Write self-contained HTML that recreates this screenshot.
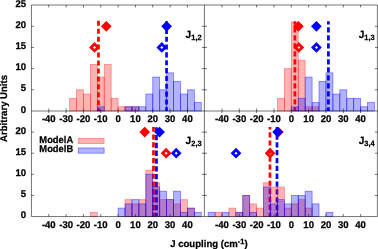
<!DOCTYPE html>
<html><head><meta charset="utf-8"><title>J coupling histograms</title>
<style>html,body{margin:0;padding:0;background:#fff}svg{display:block;will-change:transform}</style></head>
<body><svg width="378" height="249" viewBox="0 0 378 249">
<rect width="378" height="249" fill="#fff"/>
<path d="M48.78 113v-4.5M48.78 216.55v-2.5M48.78 5v2.5M66.11 113v-4.5M66.11 216.55v-2.5M66.11 5v2.5M83.44 113v-4.5M83.44 216.55v-2.5M83.44 5v2.5M100.77 113v-4.5M100.77 216.55v-2.5M100.77 5v2.5M118.1 113v-4.5M118.1 216.55v-2.5M118.1 5v2.5M135.43 113v-4.5M135.43 216.55v-2.5M135.43 5v2.5M152.76 113v-4.5M152.76 216.55v-2.5M152.76 5v2.5M170.09 113v-4.5M170.09 216.55v-2.5M170.09 5v2.5M187.42 113v-4.5M187.42 216.55v-2.5M187.42 5v2.5M221.98 113v-4.5M221.98 216.55v-2.5M221.98 5v2.5M239.31 113v-4.5M239.31 216.55v-2.5M239.31 5v2.5M256.64 113v-4.5M256.64 216.55v-2.5M256.64 5v2.5M273.97 113v-4.5M273.97 216.55v-2.5M273.97 5v2.5M291.3 113v-4.5M291.3 216.55v-2.5M291.3 5v2.5M308.63 113v-4.5M308.63 216.55v-2.5M308.63 5v2.5M325.96 113v-4.5M325.96 216.55v-2.5M325.96 5v2.5M343.29 113v-4.5M343.29 216.55v-2.5M343.29 5v2.5M360.62 113v-4.5M360.62 216.55v-2.5M360.62 5v2.5M31.45 89.81h2.5M201.9 89.81h5.0M377.4 89.81h-2.5M31.45 68.63h2.5M201.9 68.63h5.0M377.4 68.63h-2.5M31.45 47.45h2.5M201.9 47.45h5.0M377.4 47.45h-2.5M31.45 26.26h2.5M201.9 26.26h5.0M377.4 26.26h-2.5M31.45 195.44h2.5M201.9 195.44h5.0M377.4 195.44h-2.5M31.45 174.33h2.5M201.9 174.33h5.0M377.4 174.33h-2.5M31.45 153.22h2.5M201.9 153.22h5.0M377.4 153.22h-2.5M31.45 132.11h2.5M201.9 132.11h5.0M377.4 132.11h-2.5" stroke="#000" stroke-width="0.55" fill="none"/>
<path d="M98.45 108.2V111 M98.45 100.25V105.25 M98.45 92.3V97.3 M98.45 84.35V89.35 M98.45 76.4V81.4 M98.45 68.45V73.45 M98.45 60.5V65.5 M98.45 52.55V57.55 M98.45 44.6V49.6 M98.45 36.65V41.65 M98.45 28.7V33.7 M98.45 20.75V25.75" stroke="#ff0000" stroke-width="2.7" fill="none"/>
<path d="M166.55 107.3V111 M166.55 99.45V104.55 M166.55 91.6V96.7 M166.55 83.75V88.85 M166.55 75.9V81 M166.55 68.05V73.15 M166.55 60.2V65.3 M166.55 52.35V57.45 M166.55 44.5V49.6 M166.55 36.65V41.75 M166.55 28.8V33.9 M166.55 21.18V26.05" stroke="#0000ff" stroke-width="2.7" fill="none"/>
<path d="M294.9 107.3V111 M294.9 99.3V104.4 M294.9 91.3V96.4 M294.9 83.3V88.4 M294.9 75.3V80.4 M294.9 67.3V72.4 M294.9 59.3V64.4 M294.9 51.3V56.4 M294.9 43.3V48.4 M294.9 35.3V40.4 M294.9 27.3V32.4 M294.9 21.18V24.4" stroke="#ff0000" stroke-width="2.7" fill="none"/>
<path d="M328.4 107.3V111 M328.4 99.3V104.4 M328.4 91.3V96.4 M328.4 83.3V88.4 M328.4 75.3V80.4 M328.4 67.3V72.4 M328.4 59.3V64.4 M328.4 51.3V56.4 M328.4 43.3V48.4 M328.4 35.3V40.4 M328.4 27.3V32.4 M328.4 21.18V24.4" stroke="#0000ff" stroke-width="2.7" fill="none"/>
<path d="M153.5 212.85V216.55 M153.5 205.01V210.21 M153.5 197.17V202.37 M153.5 189.33V194.53 M153.5 181.49V186.69 M153.5 173.65V178.85 M153.5 165.81V171.01 M153.5 157.97V163.17 M153.5 150.13V155.33 M153.5 142.29V147.49 M153.5 134.45V139.65 M153.5 127.04V131.81" stroke="#ff0000" stroke-width="2.7" fill="none"/>
<path d="M156.45 212.85V216.55 M156.45 205.07V210.37 M156.45 197.29V202.59 M156.45 189.51V194.81 M156.45 181.73V187.03 M156.45 173.95V179.25 M156.45 166.17V171.47 M156.45 158.39V163.69 M156.45 150.61V155.91 M156.45 142.83V148.13 M156.45 135.05V140.35 M156.45 127.27V132.57" stroke="#0000ff" stroke-width="2.7" fill="none"/>
<path d="M269.95 212.85V216.55 M269.95 204.8V210 M269.95 196.75V201.95 M269.95 188.7V193.9 M269.95 180.65V185.85 M269.95 172.6V177.8 M269.95 164.55V169.75 M269.95 156.5V161.7 M269.95 148.45V153.65 M269.95 140.4V145.6 M269.95 132.35V137.55 M269.95 127.04V129.5" stroke="#ff0000" stroke-width="2.7" fill="none"/>
<path d="M277 212.85V216.55 M277 205V210.3 M277 197.15V202.45 M277 189.3V194.6 M277 181.45V186.75 M277 173.6V178.9 M277 165.75V171.05 M277 157.9V163.2 M277 150.05V155.35 M277 142.2V147.5 M277 134.35V139.65 M277 127.04V131.8" stroke="#0000ff" stroke-width="2.7" fill="none"/>
<rect x="69.58" y="98.29" width="6.93" height="12.71" fill="#ff0000" fill-opacity="0.3" stroke="#ff0000" stroke-width="0.75" stroke-opacity="0.4"/>
<rect x="76.51" y="89.81" width="6.93" height="21.19" fill="#ff0000" fill-opacity="0.3" stroke="#ff0000" stroke-width="0.75" stroke-opacity="0.4"/>
<rect x="83.44" y="94.05" width="6.93" height="16.95" fill="#ff0000" fill-opacity="0.3" stroke="#ff0000" stroke-width="0.75" stroke-opacity="0.4"/>
<rect x="90.37" y="64.39" width="6.93" height="46.61" fill="#ff0000" fill-opacity="0.3" stroke="#ff0000" stroke-width="0.75" stroke-opacity="0.4"/>
<rect x="97.3" y="77.1" width="6.93" height="33.9" fill="#ff0000" fill-opacity="0.3" stroke="#ff0000" stroke-width="0.75" stroke-opacity="0.4"/>
<rect x="104.24" y="64.39" width="6.93" height="46.61" fill="#ff0000" fill-opacity="0.3" stroke="#ff0000" stroke-width="0.75" stroke-opacity="0.4"/>
<rect x="111.17" y="98.29" width="6.93" height="12.71" fill="#ff0000" fill-opacity="0.3" stroke="#ff0000" stroke-width="0.75" stroke-opacity="0.4"/>
<rect x="118.1" y="106.76" width="6.93" height="4.24" fill="#ff0000" fill-opacity="0.3" stroke="#ff0000" stroke-width="0.75" stroke-opacity="0.4"/>
<rect x="125.03" y="106.76" width="6.93" height="4.24" fill="#ff0000" fill-opacity="0.3" stroke="#ff0000" stroke-width="0.75" stroke-opacity="0.4"/>
<rect x="131.96" y="106.76" width="6.93" height="4.24" fill="#ff0000" fill-opacity="0.3" stroke="#ff0000" stroke-width="0.75" stroke-opacity="0.4"/>
<rect x="97.3" y="106.76" width="6.93" height="4.24" fill="#0000ff" fill-opacity="0.3" stroke="#0000ff" stroke-width="0.75" stroke-opacity="0.5"/>
<rect x="125.03" y="106.76" width="6.93" height="4.24" fill="#0000ff" fill-opacity="0.3" stroke="#0000ff" stroke-width="0.75" stroke-opacity="0.5"/>
<rect x="131.96" y="106.76" width="6.93" height="4.24" fill="#0000ff" fill-opacity="0.3" stroke="#0000ff" stroke-width="0.75" stroke-opacity="0.5"/>
<rect x="138.9" y="106.76" width="6.93" height="4.24" fill="#0000ff" fill-opacity="0.3" stroke="#0000ff" stroke-width="0.75" stroke-opacity="0.5"/>
<rect x="145.83" y="94.05" width="6.93" height="16.95" fill="#0000ff" fill-opacity="0.3" stroke="#0000ff" stroke-width="0.75" stroke-opacity="0.5"/>
<rect x="152.76" y="77.1" width="6.93" height="33.9" fill="#0000ff" fill-opacity="0.3" stroke="#0000ff" stroke-width="0.75" stroke-opacity="0.5"/>
<rect x="159.69" y="89.81" width="6.93" height="21.19" fill="#0000ff" fill-opacity="0.3" stroke="#0000ff" stroke-width="0.75" stroke-opacity="0.5"/>
<rect x="166.62" y="72.87" width="6.93" height="38.13" fill="#0000ff" fill-opacity="0.3" stroke="#0000ff" stroke-width="0.75" stroke-opacity="0.5"/>
<rect x="173.56" y="81.34" width="6.93" height="29.66" fill="#0000ff" fill-opacity="0.3" stroke="#0000ff" stroke-width="0.75" stroke-opacity="0.5"/>
<rect x="180.49" y="94.05" width="6.93" height="16.95" fill="#0000ff" fill-opacity="0.3" stroke="#0000ff" stroke-width="0.75" stroke-opacity="0.5"/>
<rect x="187.42" y="89.81" width="6.93" height="21.19" fill="#0000ff" fill-opacity="0.3" stroke="#0000ff" stroke-width="0.75" stroke-opacity="0.5"/>
<rect x="194.35" y="102.53" width="6.93" height="8.47" fill="#0000ff" fill-opacity="0.3" stroke="#0000ff" stroke-width="0.75" stroke-opacity="0.5"/>
<rect x="277.44" y="98.29" width="6.93" height="12.71" fill="#ff0000" fill-opacity="0.3" stroke="#ff0000" stroke-width="0.75" stroke-opacity="0.4"/>
<rect x="284.37" y="68.63" width="6.93" height="42.37" fill="#ff0000" fill-opacity="0.3" stroke="#ff0000" stroke-width="0.75" stroke-opacity="0.4"/>
<rect x="291.3" y="22.02" width="6.93" height="88.98" fill="#ff0000" fill-opacity="0.3" stroke="#ff0000" stroke-width="0.75" stroke-opacity="0.4"/>
<rect x="298.23" y="60.16" width="6.93" height="50.84" fill="#ff0000" fill-opacity="0.3" stroke="#ff0000" stroke-width="0.75" stroke-opacity="0.4"/>
<rect x="305.16" y="106.76" width="6.93" height="4.24" fill="#ff0000" fill-opacity="0.3" stroke="#ff0000" stroke-width="0.75" stroke-opacity="0.4"/>
<rect x="312.1" y="106.76" width="6.93" height="4.24" fill="#ff0000" fill-opacity="0.3" stroke="#ff0000" stroke-width="0.75" stroke-opacity="0.4"/>
<rect x="291.3" y="106.76" width="6.93" height="4.24" fill="#0000ff" fill-opacity="0.3" stroke="#0000ff" stroke-width="0.75" stroke-opacity="0.5"/>
<rect x="298.23" y="98.29" width="6.93" height="12.71" fill="#0000ff" fill-opacity="0.3" stroke="#0000ff" stroke-width="0.75" stroke-opacity="0.5"/>
<rect x="305.16" y="77.1" width="6.93" height="33.9" fill="#0000ff" fill-opacity="0.3" stroke="#0000ff" stroke-width="0.75" stroke-opacity="0.5"/>
<rect x="312.1" y="102.53" width="6.93" height="8.47" fill="#0000ff" fill-opacity="0.3" stroke="#0000ff" stroke-width="0.75" stroke-opacity="0.5"/>
<rect x="319.03" y="81.34" width="6.93" height="29.66" fill="#0000ff" fill-opacity="0.3" stroke="#0000ff" stroke-width="0.75" stroke-opacity="0.5"/>
<rect x="325.96" y="72.87" width="6.93" height="38.13" fill="#0000ff" fill-opacity="0.3" stroke="#0000ff" stroke-width="0.75" stroke-opacity="0.5"/>
<rect x="332.89" y="94.05" width="6.93" height="16.95" fill="#0000ff" fill-opacity="0.3" stroke="#0000ff" stroke-width="0.75" stroke-opacity="0.5"/>
<rect x="339.82" y="89.81" width="6.93" height="21.19" fill="#0000ff" fill-opacity="0.3" stroke="#0000ff" stroke-width="0.75" stroke-opacity="0.5"/>
<rect x="346.76" y="98.29" width="6.93" height="12.71" fill="#0000ff" fill-opacity="0.3" stroke="#0000ff" stroke-width="0.75" stroke-opacity="0.5"/>
<rect x="353.69" y="98.29" width="6.93" height="12.71" fill="#0000ff" fill-opacity="0.3" stroke="#0000ff" stroke-width="0.75" stroke-opacity="0.5"/>
<rect x="360.62" y="106.76" width="6.93" height="4.24" fill="#0000ff" fill-opacity="0.3" stroke="#0000ff" stroke-width="0.75" stroke-opacity="0.5"/>
<rect x="367.55" y="102.53" width="6.93" height="8.47" fill="#0000ff" fill-opacity="0.3" stroke="#0000ff" stroke-width="0.75" stroke-opacity="0.5"/>
<rect x="90.37" y="212.33" width="6.93" height="4.22" fill="#ff0000" fill-opacity="0.3" stroke="#ff0000" stroke-width="0.75" stroke-opacity="0.4"/>
<rect x="125.03" y="199.66" width="6.93" height="16.89" fill="#ff0000" fill-opacity="0.3" stroke="#ff0000" stroke-width="0.75" stroke-opacity="0.4"/>
<rect x="131.96" y="203.88" width="6.93" height="12.67" fill="#ff0000" fill-opacity="0.3" stroke="#ff0000" stroke-width="0.75" stroke-opacity="0.4"/>
<rect x="138.9" y="199.66" width="6.93" height="16.89" fill="#ff0000" fill-opacity="0.3" stroke="#ff0000" stroke-width="0.75" stroke-opacity="0.4"/>
<rect x="145.83" y="170.11" width="6.93" height="46.44" fill="#ff0000" fill-opacity="0.3" stroke="#ff0000" stroke-width="0.75" stroke-opacity="0.4"/>
<rect x="152.76" y="182.77" width="6.93" height="33.78" fill="#ff0000" fill-opacity="0.3" stroke="#ff0000" stroke-width="0.75" stroke-opacity="0.4"/>
<rect x="159.69" y="199.66" width="6.93" height="16.89" fill="#ff0000" fill-opacity="0.3" stroke="#ff0000" stroke-width="0.75" stroke-opacity="0.4"/>
<rect x="166.62" y="199.66" width="6.93" height="16.89" fill="#ff0000" fill-opacity="0.3" stroke="#ff0000" stroke-width="0.75" stroke-opacity="0.4"/>
<rect x="173.56" y="203.88" width="6.93" height="12.67" fill="#ff0000" fill-opacity="0.3" stroke="#ff0000" stroke-width="0.75" stroke-opacity="0.4"/>
<rect x="180.49" y="199.66" width="6.93" height="16.89" fill="#ff0000" fill-opacity="0.3" stroke="#ff0000" stroke-width="0.75" stroke-opacity="0.4"/>
<rect x="187.42" y="208.11" width="6.93" height="8.44" fill="#ff0000" fill-opacity="0.3" stroke="#ff0000" stroke-width="0.75" stroke-opacity="0.4"/>
<rect x="118.1" y="208.11" width="6.93" height="8.44" fill="#0000ff" fill-opacity="0.3" stroke="#0000ff" stroke-width="0.75" stroke-opacity="0.5"/>
<rect x="125.03" y="203.88" width="6.93" height="12.67" fill="#0000ff" fill-opacity="0.3" stroke="#0000ff" stroke-width="0.75" stroke-opacity="0.5"/>
<rect x="131.96" y="199.66" width="6.93" height="16.89" fill="#0000ff" fill-opacity="0.3" stroke="#0000ff" stroke-width="0.75" stroke-opacity="0.5"/>
<rect x="138.9" y="203.88" width="6.93" height="12.67" fill="#0000ff" fill-opacity="0.3" stroke="#0000ff" stroke-width="0.75" stroke-opacity="0.5"/>
<rect x="145.83" y="174.33" width="6.93" height="42.22" fill="#0000ff" fill-opacity="0.3" stroke="#0000ff" stroke-width="0.75" stroke-opacity="0.5"/>
<rect x="152.76" y="187" width="6.93" height="29.55" fill="#0000ff" fill-opacity="0.3" stroke="#0000ff" stroke-width="0.75" stroke-opacity="0.5"/>
<rect x="159.69" y="191.22" width="6.93" height="25.33" fill="#0000ff" fill-opacity="0.3" stroke="#0000ff" stroke-width="0.75" stroke-opacity="0.5"/>
<rect x="166.62" y="199.66" width="6.93" height="16.89" fill="#0000ff" fill-opacity="0.3" stroke="#0000ff" stroke-width="0.75" stroke-opacity="0.5"/>
<rect x="173.56" y="191.22" width="6.93" height="25.33" fill="#0000ff" fill-opacity="0.3" stroke="#0000ff" stroke-width="0.75" stroke-opacity="0.5"/>
<rect x="180.49" y="212.33" width="6.93" height="4.22" fill="#0000ff" fill-opacity="0.3" stroke="#0000ff" stroke-width="0.75" stroke-opacity="0.5"/>
<rect x="187.42" y="208.11" width="6.93" height="8.44" fill="#0000ff" fill-opacity="0.3" stroke="#0000ff" stroke-width="0.75" stroke-opacity="0.5"/>
<rect x="194.35" y="212.33" width="6.93" height="4.22" fill="#0000ff" fill-opacity="0.3" stroke="#0000ff" stroke-width="0.75" stroke-opacity="0.5"/>
<rect x="215.05" y="212.33" width="6.93" height="4.22" fill="#ff0000" fill-opacity="0.3" stroke="#ff0000" stroke-width="0.75" stroke-opacity="0.4"/>
<rect x="228.91" y="208.11" width="6.93" height="8.44" fill="#ff0000" fill-opacity="0.3" stroke="#ff0000" stroke-width="0.75" stroke-opacity="0.4"/>
<rect x="235.84" y="212.33" width="6.93" height="4.22" fill="#ff0000" fill-opacity="0.3" stroke="#ff0000" stroke-width="0.75" stroke-opacity="0.4"/>
<rect x="242.78" y="195.44" width="6.93" height="21.11" fill="#ff0000" fill-opacity="0.3" stroke="#ff0000" stroke-width="0.75" stroke-opacity="0.4"/>
<rect x="249.71" y="203.88" width="6.93" height="12.67" fill="#ff0000" fill-opacity="0.3" stroke="#ff0000" stroke-width="0.75" stroke-opacity="0.4"/>
<rect x="256.64" y="208.11" width="6.93" height="8.44" fill="#ff0000" fill-opacity="0.3" stroke="#ff0000" stroke-width="0.75" stroke-opacity="0.4"/>
<rect x="263.57" y="182.77" width="6.93" height="33.78" fill="#ff0000" fill-opacity="0.3" stroke="#ff0000" stroke-width="0.75" stroke-opacity="0.4"/>
<rect x="270.5" y="187" width="6.93" height="29.55" fill="#ff0000" fill-opacity="0.3" stroke="#ff0000" stroke-width="0.75" stroke-opacity="0.4"/>
<rect x="277.44" y="187" width="6.93" height="29.55" fill="#ff0000" fill-opacity="0.3" stroke="#ff0000" stroke-width="0.75" stroke-opacity="0.4"/>
<rect x="284.37" y="208.11" width="6.93" height="8.44" fill="#ff0000" fill-opacity="0.3" stroke="#ff0000" stroke-width="0.75" stroke-opacity="0.4"/>
<rect x="291.3" y="203.88" width="6.93" height="12.67" fill="#ff0000" fill-opacity="0.3" stroke="#ff0000" stroke-width="0.75" stroke-opacity="0.4"/>
<rect x="298.23" y="199.66" width="6.93" height="16.89" fill="#ff0000" fill-opacity="0.3" stroke="#ff0000" stroke-width="0.75" stroke-opacity="0.4"/>
<rect x="305.16" y="208.11" width="6.93" height="8.44" fill="#ff0000" fill-opacity="0.3" stroke="#ff0000" stroke-width="0.75" stroke-opacity="0.4"/>
<rect x="208.12" y="212.33" width="6.93" height="4.22" fill="#0000ff" fill-opacity="0.3" stroke="#0000ff" stroke-width="0.75" stroke-opacity="0.5"/>
<rect x="221.98" y="212.33" width="6.93" height="4.22" fill="#0000ff" fill-opacity="0.3" stroke="#0000ff" stroke-width="0.75" stroke-opacity="0.5"/>
<rect x="235.84" y="212.33" width="6.93" height="4.22" fill="#0000ff" fill-opacity="0.3" stroke="#0000ff" stroke-width="0.75" stroke-opacity="0.5"/>
<rect x="242.78" y="195.44" width="6.93" height="21.11" fill="#0000ff" fill-opacity="0.3" stroke="#0000ff" stroke-width="0.75" stroke-opacity="0.5"/>
<rect x="249.71" y="212.33" width="6.93" height="4.22" fill="#0000ff" fill-opacity="0.3" stroke="#0000ff" stroke-width="0.75" stroke-opacity="0.5"/>
<rect x="263.57" y="187" width="6.93" height="29.55" fill="#0000ff" fill-opacity="0.3" stroke="#0000ff" stroke-width="0.75" stroke-opacity="0.5"/>
<rect x="270.5" y="203.88" width="6.93" height="12.67" fill="#0000ff" fill-opacity="0.3" stroke="#0000ff" stroke-width="0.75" stroke-opacity="0.5"/>
<rect x="277.44" y="199.66" width="6.93" height="16.89" fill="#0000ff" fill-opacity="0.3" stroke="#0000ff" stroke-width="0.75" stroke-opacity="0.5"/>
<rect x="284.37" y="203.88" width="6.93" height="12.67" fill="#0000ff" fill-opacity="0.3" stroke="#0000ff" stroke-width="0.75" stroke-opacity="0.5"/>
<rect x="291.3" y="195.44" width="6.93" height="21.11" fill="#0000ff" fill-opacity="0.3" stroke="#0000ff" stroke-width="0.75" stroke-opacity="0.5"/>
<rect x="298.23" y="195.44" width="6.93" height="21.11" fill="#0000ff" fill-opacity="0.3" stroke="#0000ff" stroke-width="0.75" stroke-opacity="0.5"/>
<rect x="305.16" y="191.22" width="6.93" height="25.33" fill="#0000ff" fill-opacity="0.3" stroke="#0000ff" stroke-width="0.75" stroke-opacity="0.5"/>
<rect x="312.1" y="203.88" width="6.93" height="12.67" fill="#0000ff" fill-opacity="0.3" stroke="#0000ff" stroke-width="0.75" stroke-opacity="0.5"/>
<rect x="325.96" y="212.33" width="6.93" height="4.22" fill="#0000ff" fill-opacity="0.3" stroke="#0000ff" stroke-width="0.75" stroke-opacity="0.5"/>
<rect x="78.25" y="138.35" width="25.85" height="5.25" fill="#ff0000" fill-opacity="0.3" stroke="#ff0000" stroke-width="0.75" stroke-opacity="0.4"/>
<rect x="78.25" y="147.95" width="25.85" height="5.25" fill="#0000ff" fill-opacity="0.3" stroke="#0000ff" stroke-width="0.75" stroke-opacity="0.5"/>
<path d="M91.05 47.45L94.5 43.99L97.95 47.45L94.5 50.9Z" fill="none" stroke="#ff0000" stroke-width="2.75" stroke-linejoin="miter"/>
<path d="M158.35 47.45L161.8 43.99L165.25 47.45L161.8 50.9Z" fill="none" stroke="#0000ff" stroke-width="2.75" stroke-linejoin="miter"/>
<path d="M100.92 26.26L106.3 20.88L111.68 26.26L106.3 31.64Z" fill="#ff0000"/>
<path d="M161.22 26.26L166.6 20.88L171.98 26.26L166.6 31.64Z" fill="#0000ff"/>
<path d="M295.35 47.45L298.8 43.99L302.25 47.45L298.8 50.9Z" fill="none" stroke="#ff0000" stroke-width="2.75" stroke-linejoin="miter"/>
<path d="M312.95 47.45L316.4 43.99L319.85 47.45L316.4 50.9Z" fill="none" stroke="#0000ff" stroke-width="2.75" stroke-linejoin="miter"/>
<path d="M293.02 26.26L298.4 20.88L303.78 26.26L298.4 31.64Z" fill="#ff0000"/>
<path d="M311.02 26.26L316.4 20.88L321.78 26.26L316.4 31.64Z" fill="#0000ff"/>
<path d="M162.65 153.22L166.1 149.77L169.55 153.22L166.1 156.67Z" fill="none" stroke="#ff0000" stroke-width="2.75" stroke-linejoin="miter"/>
<path d="M172.75 153.22L176.2 149.77L179.65 153.22L176.2 156.67Z" fill="none" stroke="#0000ff" stroke-width="2.75" stroke-linejoin="miter"/>
<path d="M139.32 132.11L144.7 126.73L150.08 132.11L144.7 137.49Z" fill="#ff0000"/>
<path d="M154.17 132.11L159.55 126.73L164.93 132.11L159.55 137.49Z" fill="#0000ff"/>
<path d="M266.65 153.22L270.1 149.77L273.55 153.22L270.1 156.67Z" fill="none" stroke="#ff0000" stroke-width="2.75" stroke-linejoin="miter"/>
<path d="M232.55 153.22L236 149.77L239.45 153.22L236 156.67Z" fill="none" stroke="#0000ff" stroke-width="2.75" stroke-linejoin="miter"/>
<path d="M273.02 132.11L278.4 126.73L283.78 132.11L278.4 137.49Z" fill="#ff0000"/>
<path d="M272.22 132.11L277.6 126.73L282.98 132.11L277.6 137.49Z" fill="#0000ff"/>
<path d="M31.45 216.55V5H377.4V216.55H31.45M31.45 111H377.4M204.4 5V216.55" stroke="#000" stroke-width="0.55" fill="none"/>
<g font-family="'Liberation Sans', Arial, Helvetica, sans-serif" font-weight="bold" font-size="9.8" fill="#000" stroke="#000" stroke-width="0.25" text-rendering="geometricPrecision"><text transform="translate(48.78 121.8) scale(0.975 1)" text-anchor="middle">-40</text><text transform="translate(48.78 227.8) scale(0.975 1)" text-anchor="middle">-40</text><text transform="translate(66.11 121.8) scale(0.975 1)" text-anchor="middle">-30</text><text transform="translate(66.11 227.8) scale(0.975 1)" text-anchor="middle">-30</text><text transform="translate(83.44 121.8) scale(0.975 1)" text-anchor="middle">-20</text><text transform="translate(83.44 227.8) scale(0.975 1)" text-anchor="middle">-20</text><text transform="translate(100.77 121.8) scale(0.975 1)" text-anchor="middle">-10</text><text transform="translate(100.77 227.8) scale(0.975 1)" text-anchor="middle">-10</text><text transform="translate(118.1 121.8) scale(0.975 1)" text-anchor="middle">0</text><text transform="translate(118.1 227.8) scale(0.975 1)" text-anchor="middle">0</text><text transform="translate(135.43 121.8) scale(0.975 1)" text-anchor="middle">10</text><text transform="translate(135.43 227.8) scale(0.975 1)" text-anchor="middle">10</text><text transform="translate(152.76 121.8) scale(0.975 1)" text-anchor="middle">20</text><text transform="translate(152.76 227.8) scale(0.975 1)" text-anchor="middle">20</text><text transform="translate(170.09 121.8) scale(0.975 1)" text-anchor="middle">30</text><text transform="translate(170.09 227.8) scale(0.975 1)" text-anchor="middle">30</text><text transform="translate(187.42 121.8) scale(0.975 1)" text-anchor="middle">40</text><text transform="translate(187.42 227.8) scale(0.975 1)" text-anchor="middle">40</text><text transform="translate(221.98 121.8) scale(0.975 1)" text-anchor="middle">-40</text><text transform="translate(221.98 227.8) scale(0.975 1)" text-anchor="middle">-40</text><text transform="translate(239.31 121.8) scale(0.975 1)" text-anchor="middle">-30</text><text transform="translate(239.31 227.8) scale(0.975 1)" text-anchor="middle">-30</text><text transform="translate(256.64 121.8) scale(0.975 1)" text-anchor="middle">-20</text><text transform="translate(256.64 227.8) scale(0.975 1)" text-anchor="middle">-20</text><text transform="translate(273.97 121.8) scale(0.975 1)" text-anchor="middle">-10</text><text transform="translate(273.97 227.8) scale(0.975 1)" text-anchor="middle">-10</text><text transform="translate(291.3 121.8) scale(0.975 1)" text-anchor="middle">0</text><text transform="translate(291.3 227.8) scale(0.975 1)" text-anchor="middle">0</text><text transform="translate(308.63 121.8) scale(0.975 1)" text-anchor="middle">10</text><text transform="translate(308.63 227.8) scale(0.975 1)" text-anchor="middle">10</text><text transform="translate(325.96 121.8) scale(0.975 1)" text-anchor="middle">20</text><text transform="translate(325.96 227.8) scale(0.975 1)" text-anchor="middle">20</text><text transform="translate(343.29 121.8) scale(0.975 1)" text-anchor="middle">30</text><text transform="translate(343.29 227.8) scale(0.975 1)" text-anchor="middle">30</text><text transform="translate(360.62 121.8) scale(0.975 1)" text-anchor="middle">40</text><text transform="translate(360.62 227.8) scale(0.975 1)" text-anchor="middle">40</text><text transform="translate(26.1 112.6) scale(0.975 1)" text-anchor="end">0</text><text transform="translate(26.1 91.41) scale(0.975 1)" text-anchor="end">5</text><text transform="translate(26.1 70.23) scale(0.975 1)" text-anchor="end">10</text><text transform="translate(26.1 49.05) scale(0.975 1)" text-anchor="end">15</text><text transform="translate(26.1 27.86) scale(0.975 1)" text-anchor="end">20</text><text transform="translate(26.1 6.68) scale(0.975 1)" text-anchor="end">25</text><text transform="translate(26.1 218.15) scale(0.975 1)" text-anchor="end">0</text><text transform="translate(26.1 197.04) scale(0.975 1)" text-anchor="end">5</text><text transform="translate(26.1 175.93) scale(0.975 1)" text-anchor="end">10</text><text transform="translate(26.1 154.82) scale(0.975 1)" text-anchor="end">15</text><text transform="translate(26.1 133.71) scale(0.975 1)" text-anchor="end">20</text><text transform="translate(39.35 142.5) scale(0.955 1)">ModelA</text><text transform="translate(39.35 152.25) scale(0.955 1)">ModelB</text><text transform="translate(185.6 37.8) scale(0.975 1)" font-size="10.4">J<tspan dy="2.1" font-size="7.7">1,2</tspan></text><text transform="translate(358.7 37.8) scale(0.975 1)" font-size="10.4">J<tspan dy="2.1" font-size="7.7">1,3</tspan></text><text transform="translate(185.6 143.5) scale(0.975 1)" font-size="10.4">J<tspan dy="2.1" font-size="7.7">2,3</tspan></text><text transform="translate(358.7 143.5) scale(0.975 1)" font-size="10.4">J<tspan dy="2.1" font-size="7.7">3,4</tspan></text><text transform="translate(170.2 246.7) scale(0.978 1)">J coupling (cm<tspan dy="-2.6" font-size="7.6">-1</tspan><tspan dy="2.6">)</tspan></text><text transform="translate(7.15 108.45) rotate(-90) scale(0.976 1)" text-anchor="middle">Arbitrary Units</text></g>
</svg></body></html>
